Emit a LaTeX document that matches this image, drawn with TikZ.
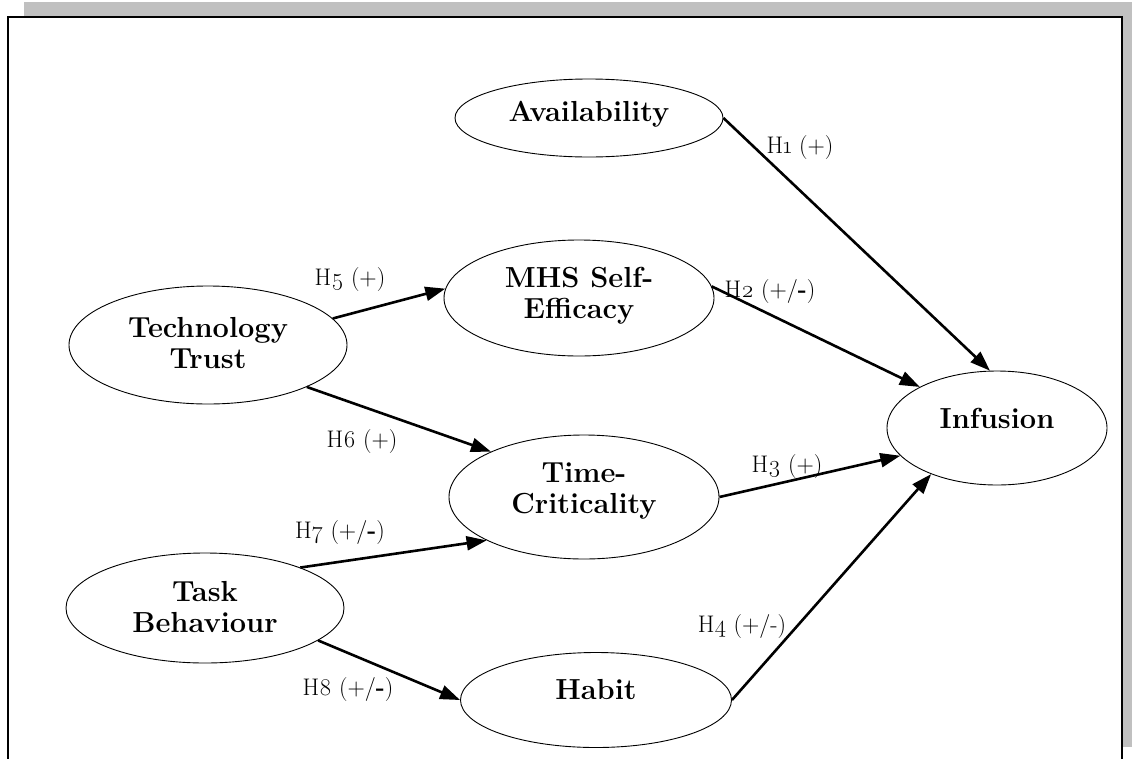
\documentclass[tikz,border=0pt]{standalone}
\usepackage{fontspec}
\setmainfont{Latin Modern Roman}[Numbers=OldStyle]
\usetikzlibrary{shapes.geometric,arrows.meta}

\definecolor{shadowgray}{HTML}{C0C0C0}

\tikzset{
  construct/.style={ellipse, draw, line width=0.9pt, inner sep=0pt},
  ctitle/.style={font=\fontsize{29}{31}\selectfont\bfseries, align=center, inner sep=0pt},
  hyp/.style={font=\fontsize{24}{26}\selectfont, inner sep=0pt},
  link/.style={line width=2.6pt, -{Triangle[length=20pt,width=14pt]}},
}

\begin{document}
\begin{tikzpicture}[x=1pt,y=-1pt]
  \useasboundingbox (0,0) rectangle (1132,758);
  \clip (0,0) rectangle (1132,758);

  % framed panel with its drop shadow
  \fill[shadowgray] (24,2) rectangle (1132,747);
  \draw[line width=2.2pt, fill=white] (8,17) rectangle (1122,790);

  % constructs
  \node[construct, minimum width=268pt, minimum height=78pt] (avail) at (589,118) {};
  \node[ctitle] (avail-t) at (589,114) {Availability};

  \node[construct, minimum width=270pt, minimum height=116pt] (mhs) at (579,298) {};
  \node[ctitle] (mhs-t) at (579,296) {MHS Self-\\Efficacy};

  \node[construct, minimum width=278pt, minimum height=118pt] (trust) at (208,345) {};
  \node[ctitle] (trust-t) at (208,343) {Technology\\Trust};

  \node[construct, minimum width=270pt, minimum height=124pt] (time) at (584,497) {};
  \node[ctitle] (time-t) at (584,491) {Time-\\Criticality};

  \node[construct, minimum width=278pt, minimum height=110pt] (task) at (205,608) {};
  \node[ctitle] (task-t) at (205,607) {Task\\Behaviour};

  \node[construct, minimum width=271pt, minimum height=95pt] (habit) at (596,700) {};
  \node[ctitle] (habit-t) at (596,690) {Habit};

  \node[construct, minimum width=220pt, minimum height=114pt] (inf) at (997,428) {};
  \node[ctitle] (inf-t) at (997,418) {Infusion};

  % hypothesised paths
  \draw[link] (avail.east) -- (inf.97);
  \draw[link] (mhs.5) -- (inf.152);
  \draw[link] (time.east) -- (inf.196);
  \draw[link] (habit.east) -- (inf.215);
  \draw[link] (trust.12) -- (mhs.176);
  \draw[link] (trust.-23) -- (time.154);
  \draw[link] (task.23) -- (time.204);
  \draw[link] (task.-16) -- (habit.west);

  % path labels
  \node[hyp] (h1) at (800,148) {H1 (+)};
  \node[hyp] (h2) at (770,292) {H2 (+/\textbf{-})};
  \node[hyp] (h3) at (787,467) {H3 (+)};
  \node[hyp] (h4) at (742,627) {H4 (+/-)};
  \node[hyp] (h5) at (350,280) {H5 (+)};
  \node[hyp] (h6) at (362,442) {H6 (+)};
  \node[hyp] (h7) at (340,533) {H7 (+/\textbf{-})};
  \node[hyp] (h8) at (348,690) {H8 (+/\textbf{-})};
\end{tikzpicture}
\end{document}
